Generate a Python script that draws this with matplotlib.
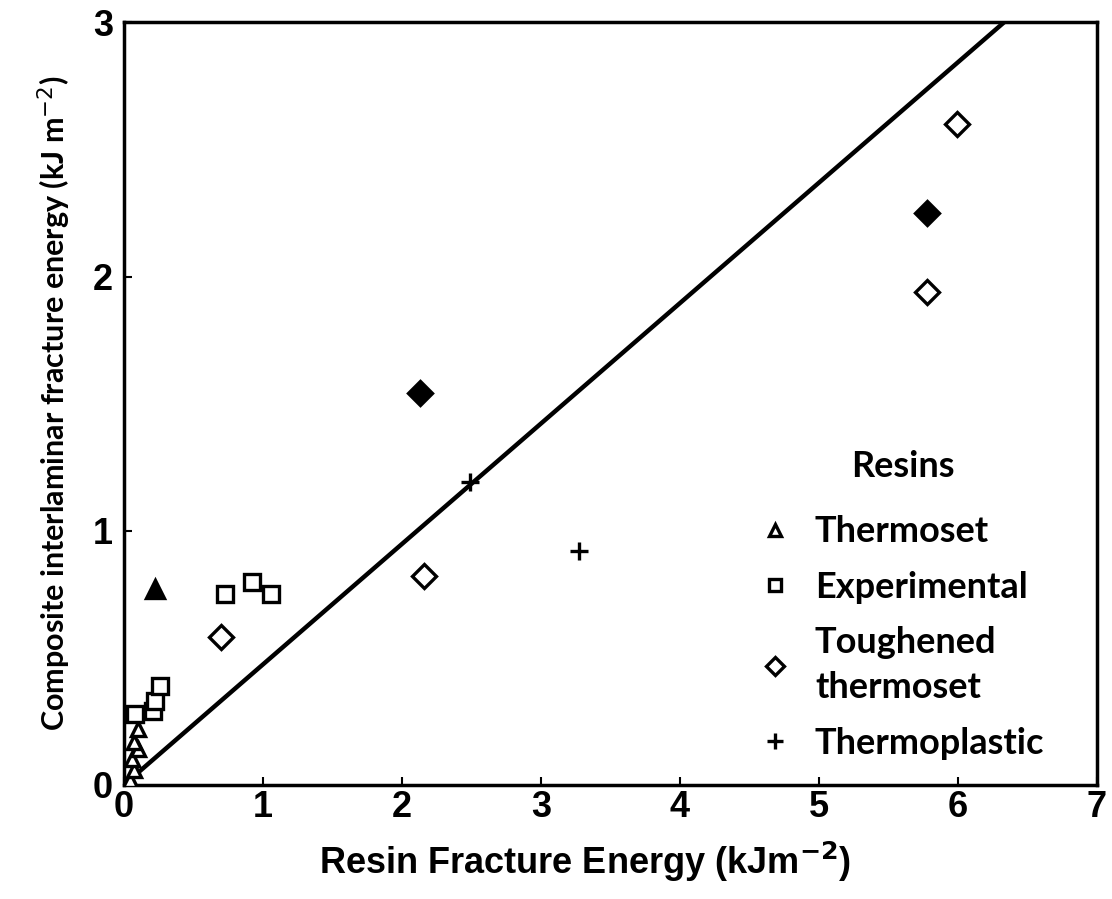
import matplotlib
matplotlib.use("Agg")
import matplotlib.pyplot as plt
from matplotlib.lines import Line2D

# ---- data ----
thermoset_x = [0.04, 0.07, 0.06, 0.10, 0.07, 0.10]
thermoset_y = [0.02, 0.06, 0.10, 0.14, 0.17, 0.22]
thermoset_filled_x = [0.22]
thermoset_filled_y = [0.77]

experimental_x = [0.08, 0.21, 0.22, 0.26, 0.73, 0.92, 1.06]
experimental_y = [0.28, 0.29, 0.33, 0.39, 0.75, 0.80, 0.75]

toughened_x = [0.70, 2.16, 5.78, 5.99]
toughened_y = [0.58, 0.82, 1.94, 2.60]
toughened_filled_x = [2.13, 5.78]
toughened_filled_y = [1.54, 2.25]

thermoplastic_x = [2.49, 3.27]
thermoplastic_y = [1.19, 0.92]

line_x = [0.0, 6.33]
line_y = [0.0, 3.0]

x_ticks = [0, 1, 2, 3, 4, 5, 6, 7]
y_ticks = [0, 1, 2, 3]

plt.rcParams['font.family'] = ['Liberation Sans', 'DejaVu Sans']

fig = plt.figure(figsize=(11.12, 8.99), dpi=100)
ax = fig.add_axes([0.1115, 0.127, 0.875, 0.848])

ax.plot(line_x, line_y, color='black', linewidth=3.2, zorder=2)

mk = dict(linestyle='none', color='black', markeredgewidth=2.4, zorder=3)
ax.plot(thermoset_x, thermoset_y, marker='^', markersize=10, markerfacecolor='white', **mk)
ax.plot(thermoset_filled_x, thermoset_filled_y, marker='^', markersize=13, markerfacecolor='black', **mk)
ax.plot(experimental_x, experimental_y, marker='s', markersize=12, markerfacecolor='white', **mk)
ax.plot(toughened_x, toughened_y, marker='D', markersize=12, markerfacecolor='white', **mk)
ax.plot(toughened_filled_x, toughened_filled_y, marker='D', markersize=12, markerfacecolor='black', **mk)
ax.plot(thermoplastic_x, thermoplastic_y, marker='+', markersize=13, **mk)

ax.set_xlim(0, 7)
ax.set_ylim(0, 3)
ax.set_xticks(x_ticks)
ax.set_yticks(y_ticks)
ax.tick_params(direction='in', length=6, width=1.5, labelsize=26, pad=8)
ax.tick_params(axis='x', pad=4)
for lab in ax.get_xticklabels() + ax.get_yticklabels():
    lab.set_fontweight('bold')
for s in ax.spines.values():
    s.set_linewidth(2.5)

ax.set_xlabel(r"Resin Fracture Energy (kJm$^{\mathbf{-2}}$)", fontsize=26,
              fontweight='bold')
ax.xaxis.set_label_coords(0.474, -0.072)
ax.set_ylabel(r"Composite interlaminar fracture energy (kJ m$^{-2}$)", fontsize=22,
              family=['Lato', 'DejaVu Sans'], fontweight='bold', labelpad=14)

# legend
handles = [
    Line2D([], [], marker='^', markersize=9, markerfacecolor='white', **mk),
    Line2D([], [], marker='s', markersize=9, markerfacecolor='white', **mk),
    Line2D([], [], marker='D', markersize=9, markerfacecolor='white', **mk),
    Line2D([], [], marker='+', markersize=11, **mk),
]
labels = ["Thermoset", "Experimental", "Toughened\nthermoset", "Thermoplastic"]
font = {'family': ['Lato', 'DejaVu Sans'], 'size': 26, 'weight': 'bold'}
leg = ax.legend(handles, labels, title="Resins", loc='lower right',
                bbox_to_anchor=(0.972, 0.0), frameon=False, handlelength=0.8,
                handletextpad=0.7, labelspacing=0.62, borderpad=0.2,
                prop=font, title_fontproperties=font)
for t in leg.get_texts():
    t.set_linespacing(1.45)
leg.get_title().set_position((0, 10))

fig.savefig("out.png", dpi=100)
